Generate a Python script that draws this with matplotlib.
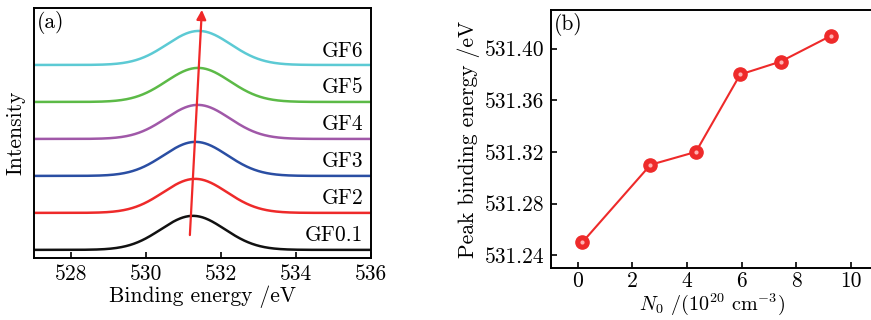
import numpy as np
import matplotlib
matplotlib.use("Agg")
import matplotlib.pyplot as plt

plt.rcParams['font.family'] = ['cmr10', 'DejaVu Serif']
plt.rcParams['mathtext.fontset'] = 'cm'
plt.rcParams['axes.unicode_minus'] = False
plt.rcParams['axes.formatter.use_mathtext'] = True

# Panel (a): XPS O1s spectra (Gaussian peaks, offset)
samples = ["GF0.1", "GF2", "GF3", "GF4", "GF5", "GF6"]
peak_centers = [531.25, 531.31, 531.32, 531.38, 531.39, 531.41]
curve_colors = ["#111111", "#ee2a2a", "#2a4ea3", "#a058a8", "#5cba47", "#5ccad4"]
peak_height = 0.92
peak_width = 0.85
offsets = [0, 1, 2, 3, 4, 5]
energy_ticks = [528, 530, 532, 534, 536]

# Panel (b): peak binding energy vs N0
n0 = [0.17, 2.66, 4.32, 5.94, 7.42, 9.26]
peak_be = [531.25, 531.31, 531.32, 531.38, 531.39, 531.41]
be_ticks = [531.24, 531.28, 531.32, 531.36, 531.40]
n0_ticks = [0, 2, 4, 6, 8, 10]

fig = plt.figure(figsize=(8.71, 3.2), dpi=100)
W, H = 871, 320
ax1 = fig.add_axes([33.5 / W, 1 - 258 / H, (371 - 33.5) / W, (258 - 8) / H])
ax2 = fig.add_axes([551 / W, 1 - 268 / H, (873 - 551) / W, (268 - 10) / H])

fs = 15.5
x = np.linspace(527, 536, 600)
for s, c, col, off in zip(samples, peak_centers, curve_colors, offsets):
    y = off + peak_height * np.exp(-0.5 * ((x - c) / peak_width) ** 2)
    ax1.plot(x, y, color=col, lw=1.8)
    ax1.text(535.8, off + 0.12, s, ha='right', va='bottom', fontsize=fs)

ax1.annotate("", xy=(531.49, 6.49), xytext=(531.17, 0.4),
             arrowprops=dict(arrowstyle='-|>', color='#f02828', lw=1.6,
                             mutation_scale=14, shrinkA=0, shrinkB=0))
ax1.set_xlim(527, 536)
ax1.set_ylim(-0.22, 6.54)
ax1.set_xticks(energy_ticks)
ax1.set_xticklabels([str(t) for t in energy_ticks])
ax1.set_yticks([])
ax1.set_xlabel("Binding energy /eV", fontsize=fs, labelpad=1)
ax1.set_ylabel("Intensity", fontsize=fs, labelpad=6)
ax1.text(0.01, 0.99, "(a)", transform=ax1.transAxes, ha='left', va='top', fontsize=fs)

ax2.plot(n0, peak_be, color='#ee2a2a', lw=1.5, marker='o', ms=9.5,
         mfc='#ee2a2a', mec='#ee2a2a', zorder=3)
ax2.plot(n0, peak_be, ls='none', marker='o', ms=3, mfc='#ffb0b0', mec='none',
         zorder=4)
ax2.set_xlim(-0.98, 10.8)
ax2.set_ylim(531.23, 531.43)
ax2.set_xticks(n0_ticks)
ax2.set_xticklabels([str(t) for t in n0_ticks])
ax2.set_yticks(be_ticks)
ax2.set_yticklabels([f"{t:.2f}" for t in be_ticks])
ax2.set_xlabel(r"$N_0$ /(10$^{20}$ cm$^{-3}$)", fontsize=14.5, labelpad=0)
ax2.set_ylabel("Peak binding energy /eV", fontsize=fs, labelpad=3)
ax2.text(0.01, 0.99, "(b)", transform=ax2.transAxes, ha='left', va='top', fontsize=fs)

for ax in (ax1, ax2):
    ax.tick_params(direction='in', length=4, width=1.2, labelsize=fs, pad=5)
    for sp in ax.spines.values():
        sp.set_linewidth(1.4)
ax2.tick_params(axis='x', pad=2.5)

fig.savefig("out.png", dpi=100)
